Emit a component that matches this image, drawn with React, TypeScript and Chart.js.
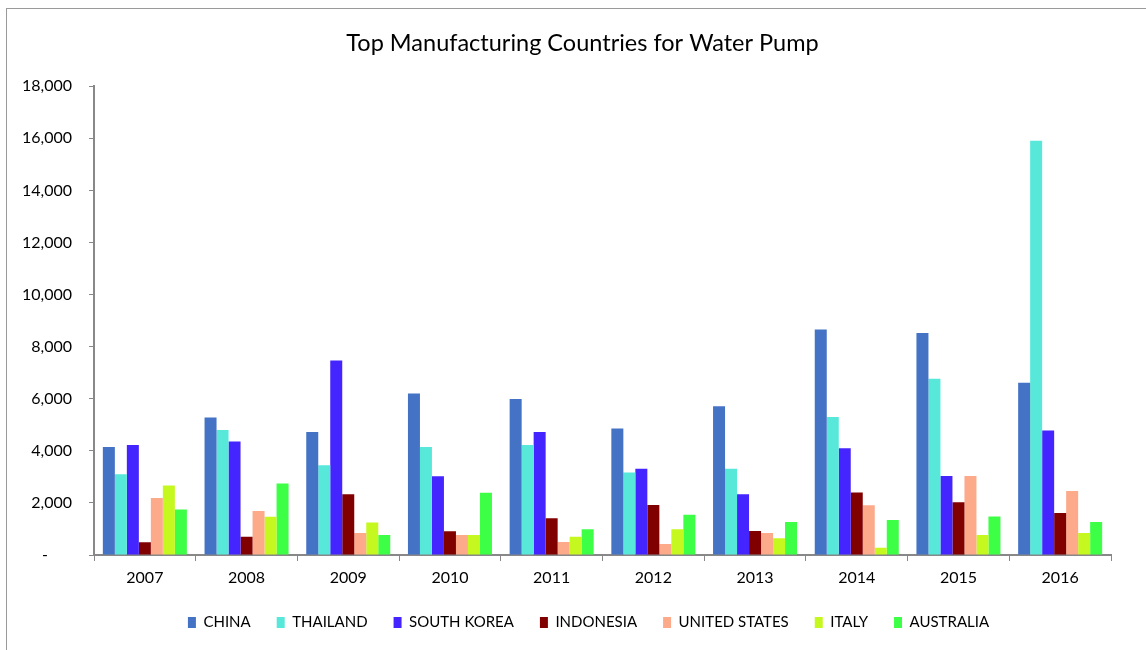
import React, { useEffect, useRef } from "react";
import { Chart, registerables } from "chart.js";

Chart.register(...registerables);

const years = ["2007", "2008", "2009", "2010", "2011", "2012", "2013", "2014", "2015", "2016"];
const china = [4150, 5280, 4720, 6200, 5990, 4860, 5710, 8660, 8520, 6610];
const thailand = [3100, 4800, 3450, 4150, 4220, 3170, 3310, 5300, 6770, 15910];
const southKorea = [4220, 4360, 7470, 3020, 4720, 3310, 2330, 4100, 3030, 4780];
const indonesia = [490, 700, 2330, 910, 1410, 1920, 920, 2400, 2030, 1610];
const unitedStates = [2190, 1690, 845, 770, 500, 420, 845, 1910, 3030, 2460];
const italy = [2670, 1470, 1250, 770, 700, 990, 640, 280, 770, 845];
const australia = [1750, 2750, 770, 2390, 990, 1550, 1270, 1340, 1480, 1270];

const seriesNames = ["CHINA", "THAILAND", "SOUTH KOREA", "INDONESIA", "UNITED STATES", "ITALY", "AUSTRALIA"];
const seriesColors = ["#4472C4", "#57E8DA", "#4525FF", "#800000", "#FCAA8A", "#C4F81E", "#3CFF46"];
const seriesData = [china, thailand, southKorea, indonesia, unitedStates, italy, australia];

const FONT = "Lato, 'Open Sans', sans-serif";

const framePlugin = {
  id: "frame",
  beforeDraw(chart: any) {
    const ctx = chart.ctx;
    ctx.save();
    ctx.fillStyle = "#ffffff";
    ctx.fillRect(0, 0, chart.width, chart.height);
    ctx.strokeStyle = "#9a9a9a";
    ctx.lineWidth = 1;
    ctx.strokeRect(6.5, 8.5, chart.width, chart.height);
    ctx.restore();
  },
};

const boxShift = {
  id: "boxShift",
  afterLayout(chart: any) {
    const lg = chart.legend;
    if (lg) {
      lg.left += 33;
      lg.right += 33;
    }
    const tb = chart.titleBlock;
    if (tb) {
      tb.left += 27;
      tb.right += 27;
    }
  },
};

export default function App() {
  const ref = useRef<HTMLCanvasElement | null>(null);
  useEffect(() => {
    if (!ref.current) return;
    const chart = new Chart(ref.current, {
      type: "bar",
      data: {
        labels: years,
        datasets: seriesNames.map((n, i) => ({
          label: n,
          data: seriesData[i],
          backgroundColor: seriesColors[i],
          borderWidth: 0,
          categoryPercentage: 0.826,
          barPercentage: 1,
        })),
      },
      options: {
        animation: false,
        responsive: false,
        maintainAspectRatio: false,
        layout: { padding: { left: 0, right: 35, top: 0, bottom: 10 } },
        plugins: {
          title: {
            display: true,
            text: "Top Manufacturing Countries for Water Pump",
            color: "#000",
            font: { family: FONT, size: 23.5, weight: "normal" },
            padding: { top: 29, bottom: 29 },
          },
          legend: {
            position: "bottom",
            labels: {
              color: "#000",
              font: { family: "'Liberation Sans Narrow', " + FONT, size: 15 },
              boxWidth: 8,
              boxHeight: 11,
              padding: 26,
            },
          },
          tooltip: { enabled: false },
        },
        scales: {
          x: {
            grid: {
              display: true,
              drawOnChartArea: false,
              offset: true,
              tickLength: 6,
              color: "#888",
            },
            border: { color: "#888", width: 2 },
            ticks: { color: "#000", font: { family: FONT, size: 16 }, padding: 7 },
            afterFit: (s: any) => {
              s.height = 34;
            },
          },
          y: {
            min: 0,
            max: 18000,
            grid: { display: true, drawOnChartArea: false, tickLength: 5, color: "#888" },
            border: { color: "#888", width: 2 },
            ticks: {
              stepSize: 2000,
              color: "#000",
              font: { family: FONT, size: 16 },
              padding: 17,
              callback: (v: any) => (Number(v) === 0 ? "-\u2002\u2002\u2002" : Number(v).toLocaleString("en-US")),
            },
            afterFit: (s: any) => {
              s.width = 94;
            },
          },
        },
      },
      plugins: [framePlugin, boxShift],
    });
    return () => chart.destroy();
  }, []);
  return (
    <div style={{ position: "absolute", left: 0, top: 0, width: 1146, height: 650 }}>
      <canvas ref={ref} width={1146} height={650} style={{ display: "block", width: 1146, height: 650 }} />
    </div>
  );
}
